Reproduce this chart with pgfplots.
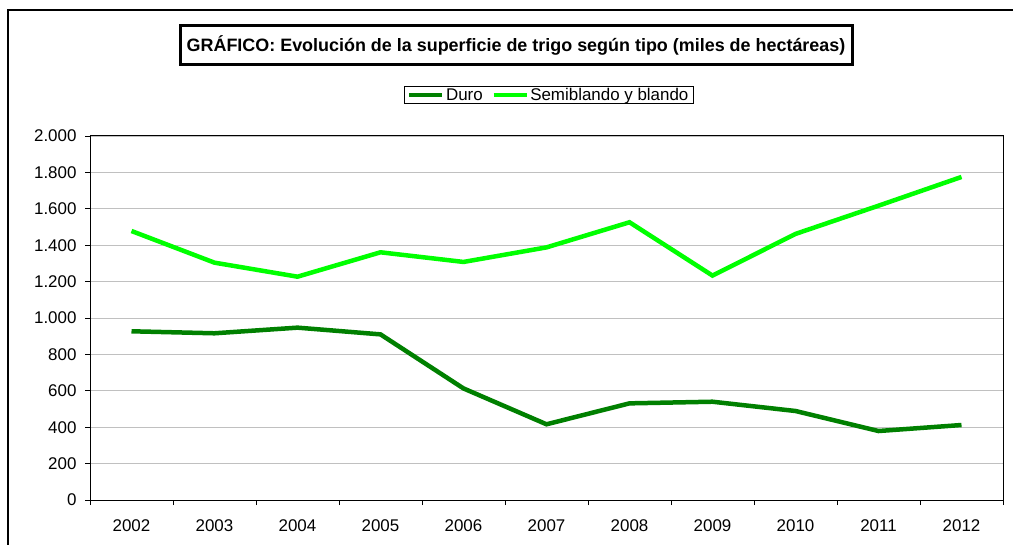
\documentclass[border=0pt]{standalone}
\usepackage{fontspec}
\setmainfont{Liberation Sans}
\usepackage{pgfplots}
\pgfplotsset{compat=1.18}
\definecolor{duro}{HTML}{008000}
\definecolor{semi}{HTML}{00FF00}
\definecolor{gridc}{HTML}{C0C0C0}
\begin{document}
\begin{tikzpicture}
\useasboundingbox (-90bp,-45bp) rectangle (923bp,500bp);
\fill[white] (-90bp,-45bp) rectangle (923bp,500bp);
\draw[line width=2.5bp] (-82bp,-46bp) -- (-82bp,490bp) -- (924bp,490bp);
\node[draw, line width=3bp, minimum width=672bp, minimum height=39bp, inner sep=0pt,
  font=\bfseries\fontsize{18}{21}\selectfont] at (426bp,454.5bp)
  {GRÁFICO: Evolución de la superficie de trigo según tipo (miles de hectáreas)};
\begin{axis}[
  at={(0,0)}, anchor=south west,
  scale only axis, width=913bp, height=364bp,
  xmin=-0.5, xmax=10.5, ymin=0, ymax=2000,
  xtick={0,1,2,3,4,5,6,7,8,9,10},
  xticklabels={2002,2003,2004,2005,2006,2007,2008,2009,2010,2011,2012},
  minor xtick={-0.5,0.5,1.5,2.5,3.5,4.5,5.5,6.5,7.5,8.5,9.5,10.5},
  ytick={0,200,...,2000},
  major x tick style={draw=none},
  minor x tick style={black, line width=0.8bp},
  major y tick style={black, line width=0.8bp},
  tick align=outside,
  major tick length=5bp, minor tick length=5bp,
  xtick pos=bottom, ytick pos=left,
  ymajorgrids, grid style={gridc, line width=0.8bp},
  axis line style={black, line width=1bp},
  tick label style={font=\fontsize{17}{20}\selectfont},
  xticklabel style={yshift=-11bp},
  yticklabel style={xshift=-5bp},
  /pgf/number format/.cd, 1000 sep={.}, assume math mode=true, /pgfplots/.cd,
  legend columns=2,
  legend style={at={(0.5022,1.1126)}, anchor=center, draw=black, line width=0.8bp,
    font=\fontsize{17}{20}\selectfont, inner xsep=3bp, inner ysep=0bp,
    nodes={inner sep=1.5bp},
    /tikz/every even column/.append style={column sep=7bp}},
  legend image code/.code={\draw[#1, line width=4.5bp] (0bp,0bp) -- (33bp,0bp);},
]
\addplot[duro, line width=4.5bp] coordinates {
(0,927) (1,916) (2,947) (3,910) (4,613) (5,416) (6,531) (7,540) (8,489) (9,379) (10,412)};
\addlegendentry{Duro}
\addplot[semi, line width=4.5bp] coordinates {
(0,1478) (1,1304) (2,1227) (3,1361) (4,1308) (5,1388) (6,1526) (7,1233) (8,1462) (9,1617) (10,1775)};
\addlegendentry{Semiblando y blando}
\end{axis}
\end{tikzpicture}
\end{document}
